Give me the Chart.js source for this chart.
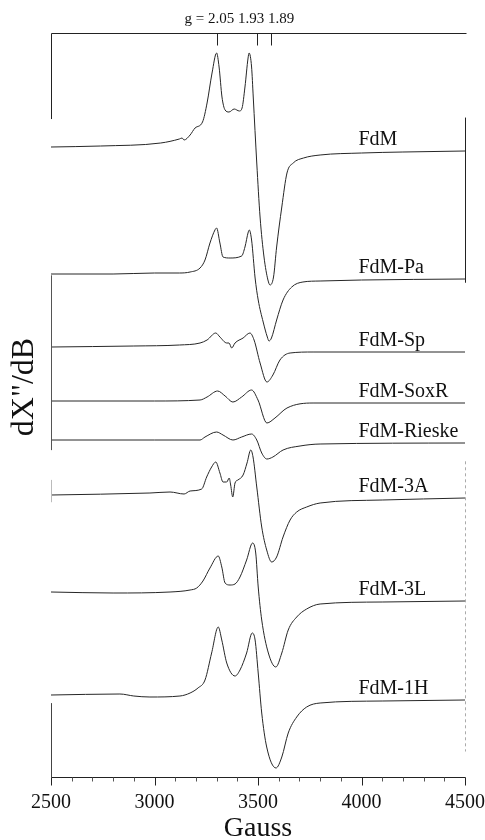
<!DOCTYPE html>
<html><head><meta charset="utf-8">
<script src="https://cdn.jsdelivr.net/npm/chart.js@4.4.1/dist/chart.umd.min.js"></script>
<style>html,body{margin:0;padding:0;background:#fff;}#wrap{width:485px;height:840px;position:relative;}</style>
</head><body><div id="wrap"><canvas id="c" width="485" height="840"></canvas></div>
<script>
// ---- data (field in Gauss, signal in arbitrary units) ----
const fieldMin = 2500, fieldMax = 4500;
const majorTicks = [2500, 3000, 3500, 4000, 4500];
const gValues = ['2.05', '1.93', '1.89'];
const gFields = [3300, 3494, 3563];
const spectrumNames = ['FdM', 'FdM-Pa', 'FdM-Sp', 'FdM-SoxR', 'FdM-Rieske', 'FdM-3A', 'FdM-3L', 'FdM-1H'];
const spectrumOffsets = [630, 503, 430, 376, 337, 282, 185, 82];

const fdmField = [2500, 2740, 3030, 3120, 3133, 3143, 3172, 3196, 3232, 3254, 3278, 3300, 3312, 3326, 3341, 3360, 3385, 3410, 3423, 3437, 3452, 3457, 3469, 3477, 3494, 3510, 3529, 3548, 3558, 3575, 3590, 3615, 3640, 3670, 3720, 3800, 4000, 4200, 4500];
const fdmSignal = [0, 1, 4, 8, 9, 7, 12, 19, 25, 44, 74, 94, 80, 50, 37, 35, 38, 36, 39, 60, 89, 94, 80, 50, -16, -70, -110, -133, -138, -130, -100, -60, -26, -16, -11, -8, -6, -5, -4];

const paField = [2500, 2800, 3000, 3120, 3172, 3220, 3244, 3268, 3292, 3300, 3316, 3331, 3365, 3421, 3437, 3453, 3458, 3469, 3486, 3501, 3525, 3545, 3553, 3565, 3590, 3621, 3663, 3717, 3800, 4000, 4500];
const paSignal = [0, 0, 1, 1, 2, 6, 14, 31, 44, 46, 31, 17, 16, 18, 27, 42, 44, 34, -4, -26, -48, -63, -67, -64, -46, -26, -13, -8, -7, -6, -5];

const spField = [2500, 2900, 3120, 3220, 3254, 3296, 3316, 3349, 3360, 3373, 3389, 3428, 3461, 3481, 3510, 3543, 3572, 3606, 3655, 3766, 4500];
const spSignal = [0, 1, 2, 4, 7, 14, 10, 4, 4, -1, 4, 9, 14, 7, -16, -35, -28, -13, -6, -5, -5];

const soxrField = [2500, 3000, 3220, 3254, 3305, 3341, 3379, 3421, 3469, 3500, 3543, 3582, 3640, 3766, 4500];
const soxrSignal = [0, 0, 1, 4, 10, 5, -1, 4, 11, 1, -22, -17, -7, -2, -2];

const rieskeField = [2500, 3000, 3220, 3244, 3300, 3331, 3379, 3421, 3469, 3494, 3518, 3543, 3572, 3621, 3703, 3800, 4500];
const rieskeSignal = [0, 0, 0, 3, 8, 5, 0, 3, 6, 0, -13, -19, -17, -10, -6, -4, -3];

const m3aField = [2500, 2978, 3075, 3143, 3172, 3228, 3252, 3276, 3296, 3316, 3331, 3349, 3361, 3368, 3378, 3389, 3403, 3428, 3447, 3465, 3476, 3494, 3518, 3542, 3566, 3590, 3621, 3655, 3687, 3735, 3800, 4100, 4500];
const m3aSignal = [0, 2, 3, 1, 4, 6, 18, 28, 33, 22, 13, 13, 17, 10, -2, 12, 15, 20, 32, 45, 38, 8, -32, -55, -67, -62, -42, -25, -17, -12, -8, -5, -3];

const m3lField = [2500, 2800, 3075, 3172, 3204, 3234, 3268, 3308, 3325, 3341, 3365, 3389, 3413, 3445, 3474, 3489, 3501, 3518, 3550, 3586, 3615, 3646, 3687, 3735, 3800, 4100, 4500];
const m3lSignal = [0, -1, 0, 2, 4, 11, 24, 36, 25, 9, 7, 8, 15, 32, 49, 39, 5, -28, -61, -75, -61, -38, -25, -17, -12, -10, -9];

const m1hField = [2500, 2833, 2900, 2978, 3123, 3172, 3210, 3244, 3276, 3308, 3325, 3349, 3389, 3413, 3445, 3472, 3486, 3501, 3518, 3542, 3587, 3615, 3646, 3687, 3735, 3800, 4100, 4500];
const m1hSignal = [0, 1, -1, -2, -1, 2, 7, 15, 42, 68, 55, 32, 19, 25, 42, 62, 55, 22, -18, -52, -73, -62, -38, -22, -12, -8, -6, -5];

const spectraFields = [fdmField, paField, spField, soxrField, rieskeField, m3aField, m3lField, m1hField];
const spectraSignals = [fdmSignal, paSignal, spSignal, soxrSignal, rieskeSignal, m3aSignal, m3lSignal, m1hSignal];

// ---- chart ----
const SERIF = '"Liberation Serif", "DejaVu Serif", serif';
const datasets = spectrumNames.map((name, k) => ({
  label: name,
  data: spectraFields[k].map((f, i) => ({ x: f, y: spectrumOffsets[k] + spectraSignals[k][i] })),
  borderColor: '#262626',
  borderWidth: 1,
  pointRadius: 0,
  fill: false,
  cubicInterpolationMode: 'monotone'
}));

const decor = {
  id: 'decor',
  afterDraw(chart) {
    const { ctx, chartArea: a, scales: { x, y } } = chart;
    const H = a.bottom - a.top;
    ctx.save();
    ctx.lineWidth = 1;
    const line = (x1, y1, x2, y2, col) => {
      ctx.strokeStyle = col || '#222';
      ctx.beginPath(); ctx.moveTo(x1, y1); ctx.lineTo(x2, y2); ctx.stroke();
    };
    const L = Math.round(a.left) + 0.5, R = Math.round(a.right) + 0.5;
    const T = Math.round(a.top) + 0.5, B = Math.round(a.bottom) + 0.5;
    // frame (partially faded as in the scan)
    line(L, T, R + 1, T);
    line(L, T, L, T + H * 0.115);
    line(L, T + H * 0.325, L, T + H * 0.56, '#555');
    line(L, T + H * 0.6, L, T + H * 0.63, '#bbb');
    line(L, T + H * 0.9, L, B, '#444');
    line(R, T + H * 0.113, R, T + H * 0.335);
    ctx.setLineDash([3, 3]);
    line(R, T + H * 0.575, R, T + H * 0.965, '#aaa');
    ctx.setLineDash([]);
    // bottom axis
    line(L, B, R, B);
    for (let f = fieldMin; f <= fieldMax; f += 100) {
      const px = Math.round(x.getPixelForValue(f)) + 0.5;
      const major = majorTicks.includes(f);
      line(px, B, px, B + (major ? 8 : 4), major ? '#222' : '#555');
    }
    // g-value markers
    gFields.forEach(f => {
      const px = Math.round(x.getPixelForValue(f)) + 0.5;
      line(px, T, px, T + 12);
    });
    ctx.fillStyle = '#111';
    ctx.font = '15px ' + SERIF;
    ctx.textAlign = 'left';
    ctx.textBaseline = 'alphabetic';
    ctx.fillText('g = ' + gValues.join(' '), x.getPixelForValue(gFields[0]) - 32, a.top - 10);
    // spectrum labels
    ctx.font = '20px ' + SERIF;
    spectrumNames.forEach((name, k) => {
      const sig = spectraSignals[k];
      const v = spectrumOffsets[k] + sig[sig.length - 1];
      ctx.fillText(name, x.getPixelForValue(3985), y.getPixelForValue(v) - 6);
    });
    // axis titles
    ctx.textAlign = 'center';
    ctx.textBaseline = 'middle';
    ctx.font = '28px ' + SERIF;
    ctx.fillText('Gauss', (a.left + a.right) / 2, a.bottom + 52);
    ctx.save();
    ctx.translate(25, (a.top + a.bottom) / 2 - 18);
    ctx.rotate(-Math.PI / 2);
    ctx.font = '32px ' + SERIF;
    ctx.fillText('dX"/dB', 0, 0);
    ctx.restore();
    ctx.restore();
  }
};

new Chart(document.getElementById('c'), {
  type: 'line',
  data: { datasets },
  options: {
    responsive: false,
    animation: false,
    devicePixelRatio: 1,
    layout: { padding: { left: 51, right: 20, top: 33, bottom: 0 } },
    plugins: { legend: { display: false }, tooltip: { enabled: false } },
    scales: {
      x: {
        type: 'linear', min: fieldMin, max: fieldMax,
        afterFit: s => { s.height = 63; s.paddingLeft = 0; s.paddingRight = 0; },
        afterBuildTicks: s => { s.ticks = majorTicks.map(v => ({ value: v })); },
        ticks: { color: '#111', font: { family: SERIF, size: 20 }, padding: 6, maxRotation: 0, autoSkip: false, callback: v => String(v) },
        grid: { display: true, drawOnChartArea: false, drawTicks: true, tickLength: 8, color: 'transparent', tickColor: 'transparent' },
        border: { display: false }
      },
      y: { type: 'linear', min: 0, max: 744, display: false }
    }
  },
  plugins: [decor]
});
</script>
</body></html>
